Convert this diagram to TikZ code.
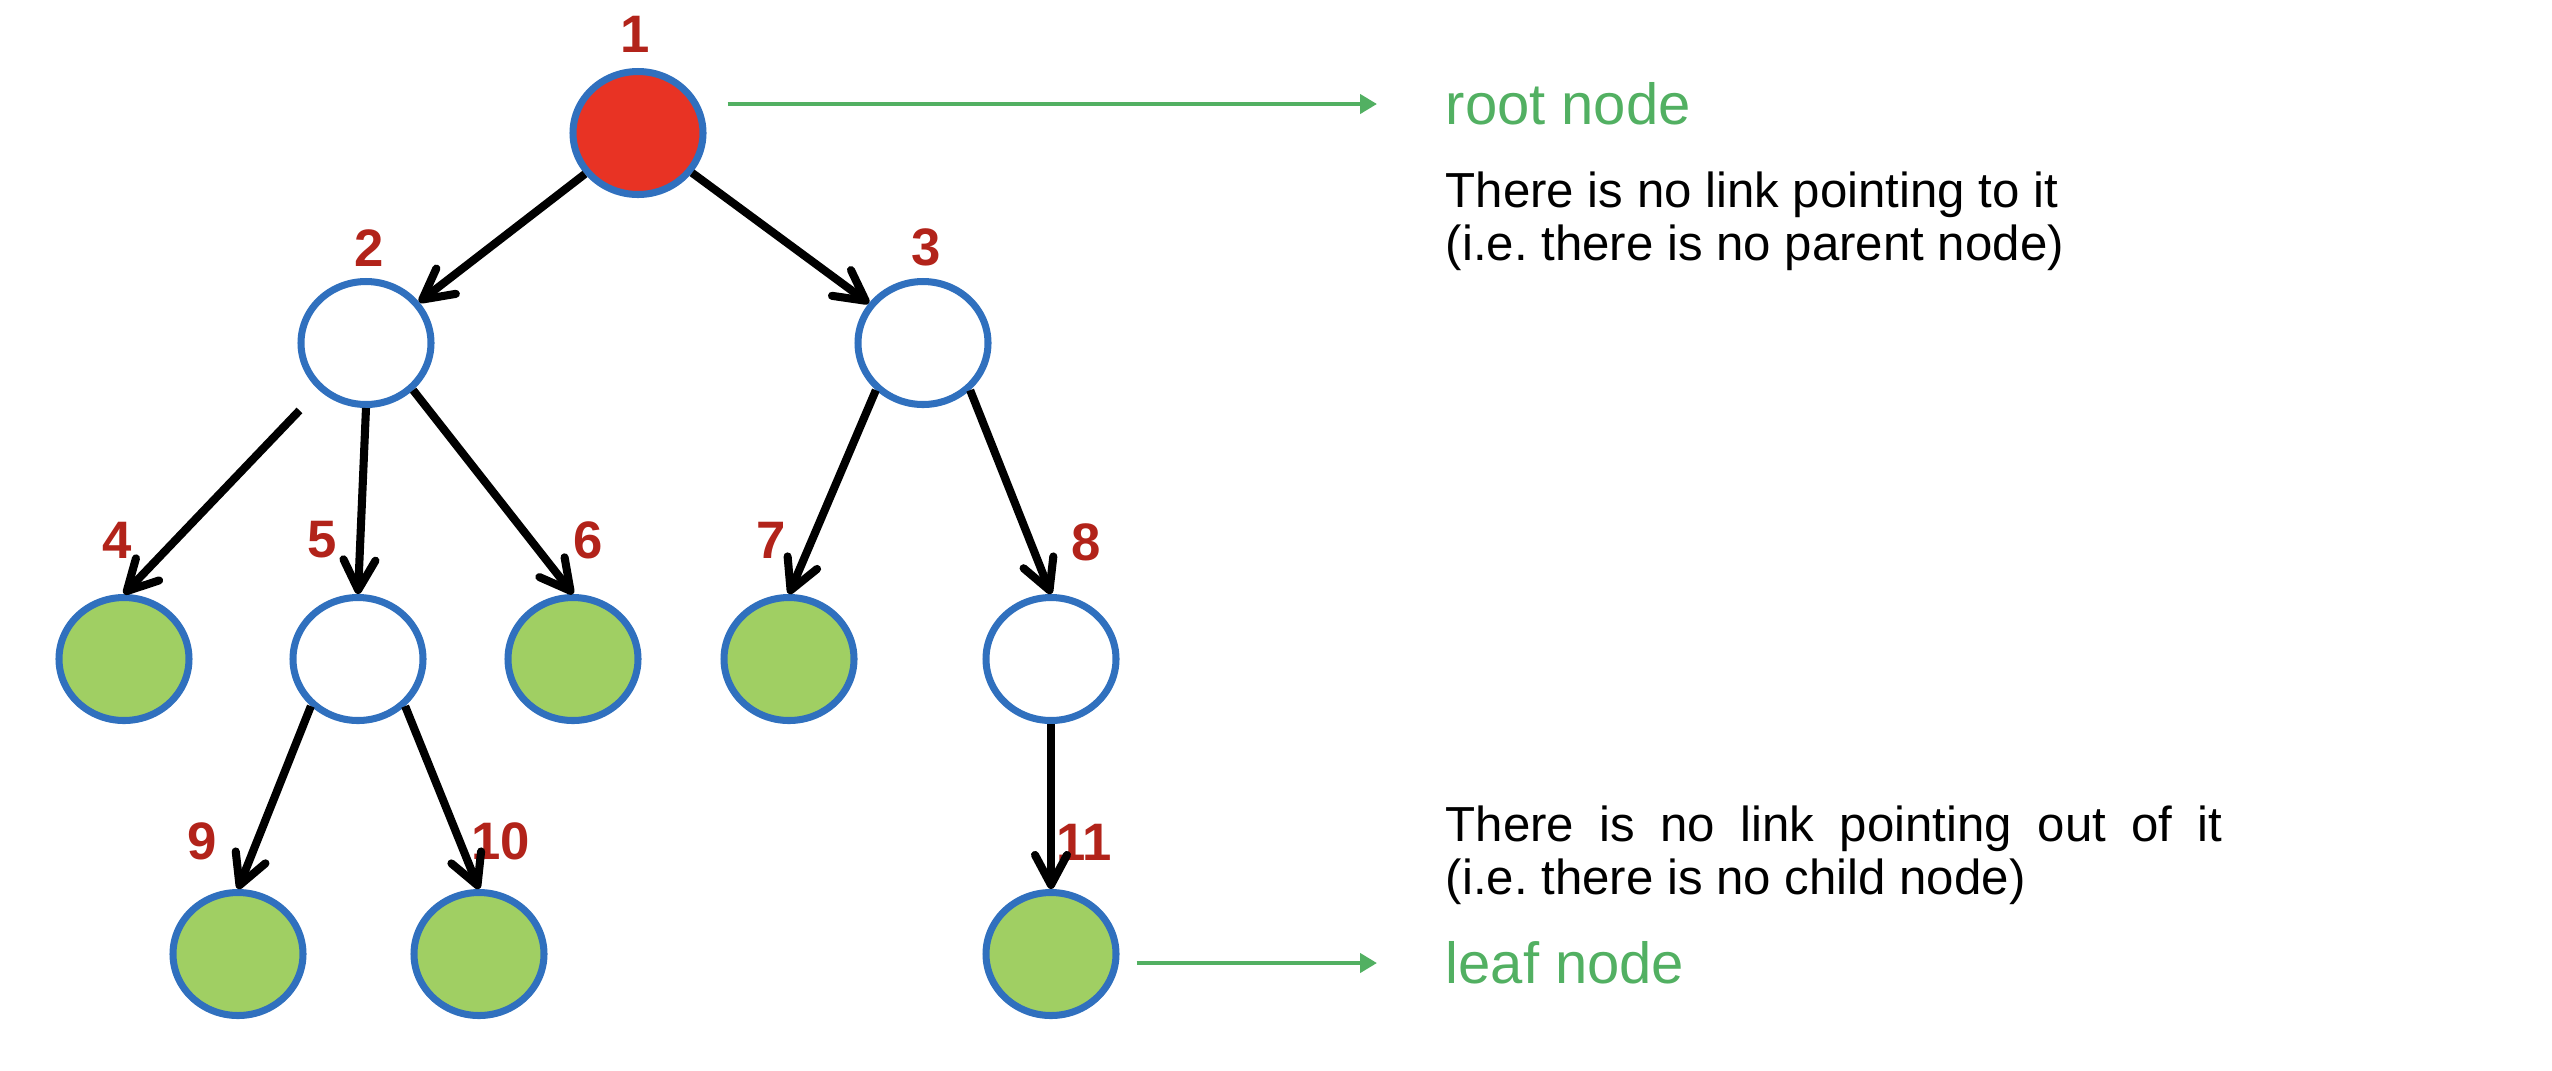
\documentclass[tikz,border=0pt]{standalone}
\usepackage{fontspec}
\setmainfont{Liberation Sans}
\usetikzlibrary{positioning, shapes, arrows, calc}
\definecolor{treeBorder}{HTML}{3070BE}
\definecolor{treeRoot}{HTML}{E83324}
\definecolor{treeLeaf}{HTML}{A0CF63}
\definecolor{treeNum}{HTML}{B2231A}
\definecolor{treeNote}{HTML}{52B062}
\usetikzlibrary{arrows.meta}
\frenchspacing

\begin{document}
\begin{tikzpicture}[
  vtx/.style={draw=treeBorder, ellipse, line width=2pt, fill=white, minimum width=1.30cm, minimum height=1.23cm, inner sep=0pt},
  leaf/.style={vtx, fill=treeLeaf},
  num/.style={text=treeNum, inner sep=0pt, font=\fontsize{15}{15}\selectfont\bfseries},
  arr/.style={-{Straight Barb[length=3mm, width=3.2mm, round]}, line width=2.3pt},
  note/.style={-{Triangle[length=1.7mm, width=1.9mm]}, line width=1.4pt, draw=treeNote},
  tag/.style={anchor=west, inner sep=0pt, text=treeNote, font=\fontsize{16.5}{18}\selectfont},
  txt/.style={anchor=north west, inner sep=0pt, font=\fontsize{14}{15}\selectfont}
]
\useasboundingbox (0,0) rectangle (25.52,-10.70);

\node[vtx, fill=treeRoot] (n1) at (6.38,-1.33) {};
\node[vtx] (n2) at (3.66,-3.43) {};
\node[vtx] (n3) at (9.23,-3.43) {};
\node[leaf] (n4) at (1.24,-6.59) {};
\node[vtx] (n5) at (3.58,-6.59) {};
\node[leaf] (n6) at (5.73,-6.59) {};
\node[leaf] (n7) at (7.89,-6.59) {};
\node[vtx] (n8) at (10.51,-6.59) {};
\node[leaf] (n9) at (2.38,-9.54) {};
\node[leaf] (n10) at (4.79,-9.54) {};
\node[leaf] (n11) at (10.51,-9.54) {};

\node[num] (l1) at (6.35,-0.34) {1};
\node[num] (l2) at (3.69,-2.48) {2};
\node[num] (l3) at (9.26,-2.47) {3};
\node[num] (l4) at (1.17,-5.40) {4};
\node[num] (l5) at (3.22,-5.40) {5};
\node[num] (l6) at (5.88,-5.40) {6};
\node[num] (l7) at (7.71,-5.40) {7};
\node[num] (l8) at (10.86,-5.42) {8};
\node[num] (l9) at (2.02,-8.41) {9};
\node[num] (l10) at (5.01,-8.41) {10};
\node[num] (l11) at (10.84,-8.42) {11};

\draw[arr] (n1) -- (n2);
\draw[arr] (n1) -- (n3);
\draw[arr, shorten <=2.8mm] (n2.225) -- (n4.north);
\draw[arr] (n2.south) -- (n5.north);
\draw[arr] (n2.-45) -- (n6.north);
\draw[arr] (n3.225) -- (n7.north);
\draw[arr] (n3.-45) -- (n8.north);
\draw[arr] (n5.225) -- (n9.north);
\draw[arr] (n5.-45) -- (n10.north);
\draw[arr] (n8.south) -- (n11.north);

\node[tag] (rootlbl) at (14.45,-1.04) {root node};
\node[txt, align=left] (rootnote) at (14.45,-1.71) {There is no link pointing to it\\(i.e. there is no parent node)};
\node[txt, text width=7.77cm, align=justify] (leafnote) at (14.45,-8.05) {There is no link pointing out of it\linebreak (i.e. there is no child node)};
\node[tag] (leaflbl) at (14.45,-9.63) {leaf node};

\draw[note, shorten <=2.1mm, shorten >=6.8mm] (rootlbl.west -| n1.east) -- (rootlbl.west);
\draw[note, shorten <=1.7mm, shorten >=6.8mm] (leaflbl.west -| n11.east) -- (leaflbl.west);
\end{tikzpicture}
\end{document}
